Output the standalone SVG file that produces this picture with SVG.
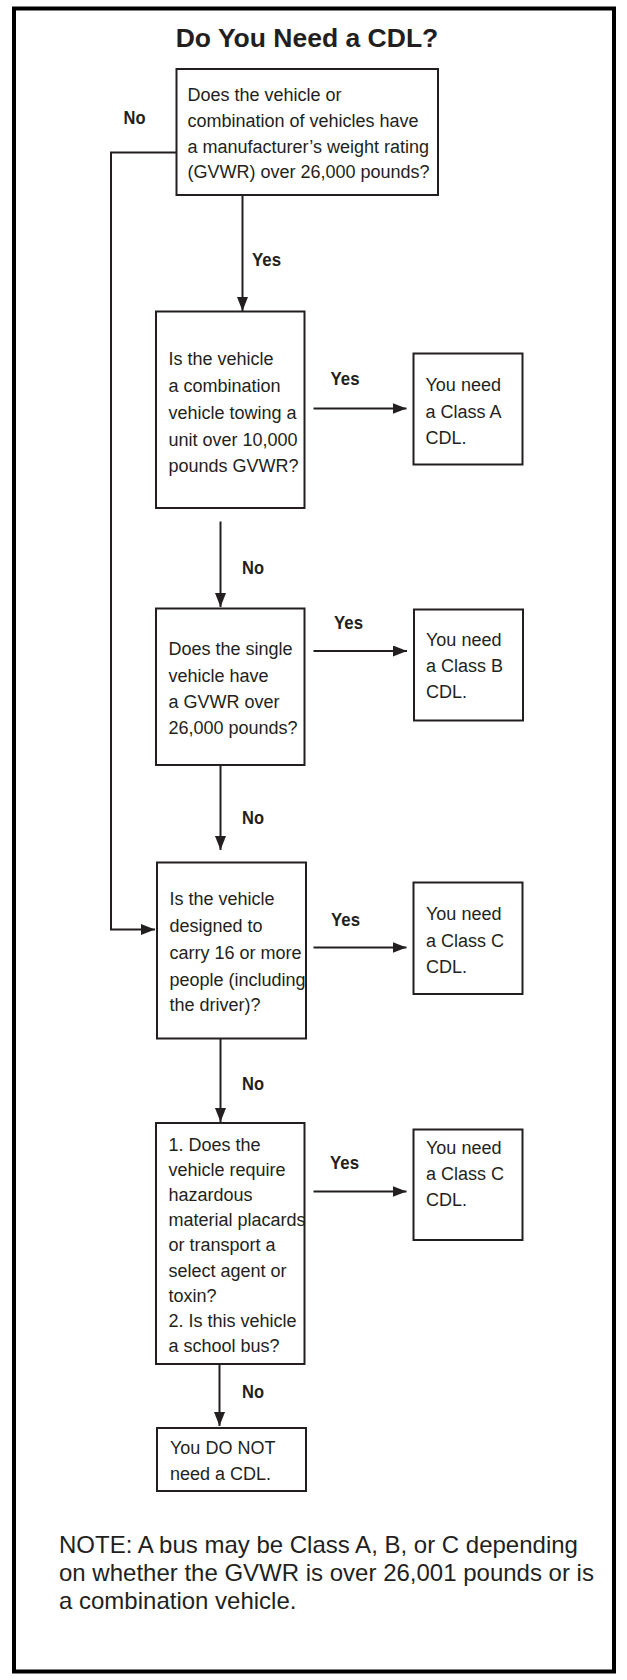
<svg xmlns="http://www.w3.org/2000/svg" width="627" height="1680" viewBox="0 0 627 1680">
<defs>
<style>
.frame{fill:none;stroke:#000;stroke-width:4}
.box{fill:#fff;stroke:#231f20;stroke-width:2}
.t{font-family:"Liberation Sans",Arial,sans-serif;font-size:18px;fill:#231f20}
.lbl{font-family:"Liberation Sans",Arial,sans-serif;font-size:18.5px;font-weight:bold;fill:#231f20}
.title{font-family:"Liberation Sans",Arial,sans-serif;font-size:26.5px;font-weight:bold;fill:#231f20}
.note{font-family:"Liberation Sans",Arial,sans-serif;font-size:24px;fill:#231f20}
.c{fill:none;stroke:#231f20;stroke-width:2}
</style>
<marker id="ah" markerUnits="userSpaceOnUse" markerWidth="14" markerHeight="11" refX="14" refY="5.5" orient="auto">
<path d="M0,0 L14,5.5 L0,11 z" fill="#231f20"/>
</marker>
</defs>
<rect x="0" y="0" width="627" height="1680" fill="#fff"/>
<rect class="frame" x="14" y="8.5" width="600" height="1663"/>
<text class="title" x="307" y="46.5" text-anchor="middle">Do You Need a CDL?</text>

<g id="connectors">
<path class="c" d="M176.5,152.5 H111 V929.5 H155" marker-end="url(#ah)"/>
<path class="c" d="M242.5,195 V311" marker-end="url(#ah)"/>
<path class="c" d="M220.5,521.5 V607" marker-end="url(#ah)"/>
<path class="c" d="M220.5,765 V850" marker-end="url(#ah)"/>
<path class="c" d="M220.5,1038.5 V1122" marker-end="url(#ah)"/>
<path class="c" d="M219.5,1365 V1426" marker-end="url(#ah)"/>
<path class="c" d="M313.5,408.5 H406.5" marker-end="url(#ah)"/>
<path class="c" d="M313.5,651 H407" marker-end="url(#ah)"/>
<path class="c" d="M313.5,947.5 H406.5" marker-end="url(#ah)"/>
<path class="c" d="M313.5,1191.5 H406.5" marker-end="url(#ah)"/>
<text class="lbl" x="123.5" y="123.5" textLength="22" lengthAdjust="spacingAndGlyphs">No</text>
<text class="lbl" x="252" y="265.5" textLength="29" lengthAdjust="spacingAndGlyphs">Yes</text>
<text class="lbl" x="330.5" y="385" textLength="29" lengthAdjust="spacingAndGlyphs">Yes</text>
<text class="lbl" x="242" y="574" textLength="22" lengthAdjust="spacingAndGlyphs">No</text>
<text class="lbl" x="334" y="628.5" textLength="29" lengthAdjust="spacingAndGlyphs">Yes</text>
<text class="lbl" x="242" y="823.5" textLength="22" lengthAdjust="spacingAndGlyphs">No</text>
<text class="lbl" x="331" y="926" textLength="29" lengthAdjust="spacingAndGlyphs">Yes</text>
<text class="lbl" x="242" y="1090" textLength="22" lengthAdjust="spacingAndGlyphs">No</text>
<text class="lbl" x="330" y="1168.5" textLength="29" lengthAdjust="spacingAndGlyphs">Yes</text>
<text class="lbl" x="242" y="1397.5" textLength="22" lengthAdjust="spacingAndGlyphs">No</text>
</g>

<g id="q1">
<rect class="box" x="176.5" y="69" width="261.5" height="126"/>
<text class="t" x="187.5" y="101">Does the vehicle or</text>
<text class="t" x="187.5" y="126.5">combination of vehicles have</text>
<text class="t" x="187.5" y="152.5">a manufacturer’s weight rating</text>
<text class="t" x="187.5" y="177.5">(GVWR) over 26,000 pounds?</text>
</g>

<g id="q2">
<rect class="box" x="156" y="311.5" width="148.5" height="196.5"/>
<text class="t" x="168.5" y="364.5">Is the vehicle</text>
<text class="t" x="168.5" y="391.5">a combination</text>
<text class="t" x="168.5" y="418.5">vehicle towing a</text>
<text class="t" x="168.5" y="445.5">unit over 10,000</text>
<text class="t" x="168.5" y="472">pounds GVWR?</text>
</g>

<g id="classA">
<rect class="box" x="413.5" y="353.5" width="109" height="111"/>
<text class="t" x="425.5" y="391">You need</text>
<text class="t" x="425.5" y="417.5">a Class A</text>
<text class="t" x="425.5" y="443.5">CDL.</text>
</g>

<g id="q3">
<rect class="box" x="156" y="608.5" width="148.5" height="156.5"/>
<text class="t" x="168.5" y="655">Does the single</text>
<text class="t" x="168.5" y="681.5">vehicle have</text>
<text class="t" x="168.5" y="707.5">a GVWR over</text>
<text class="t" x="168.5" y="734">26,000 pounds?</text>
</g>

<g id="classB">
<rect class="box" x="414" y="609.5" width="109" height="111"/>
<text class="t" x="426" y="646">You need</text>
<text class="t" x="426" y="671.5">a Class B</text>
<text class="t" x="426" y="698">CDL.</text>
</g>

<g id="q4">
<rect class="box" x="157" y="862.5" width="149" height="176"/>
<text class="t" x="169.5" y="905">Is the vehicle</text>
<text class="t" x="169.5" y="931.5">designed to</text>
<text class="t" x="169.5" y="958.5">carry 16 or more</text>
<text class="t" x="169.5" y="985.5">people (including</text>
<text class="t" x="169.5" y="1011">the driver)?</text>
</g>

<g id="classC1">
<rect class="box" x="413.5" y="882.5" width="109" height="111.5"/>
<text class="t" x="426" y="920">You need</text>
<text class="t" x="426" y="946.5">a Class C</text>
<text class="t" x="426" y="972.5">CDL.</text>
</g>

<g id="q5">
<rect class="box" x="156" y="1123" width="148.5" height="241"/>
<text class="t" x="168.5" y="1150.5">1. Does the</text>
<text class="t" x="168.5" y="1175.5">vehicle require</text>
<text class="t" x="168.5" y="1200.5">hazardous</text>
<text class="t" x="168.5" y="1226">material placards</text>
<text class="t" x="168.5" y="1251">or transport a</text>
<text class="t" x="168.5" y="1276.5">select agent or</text>
<text class="t" x="168.5" y="1301.5">toxin?</text>
<text class="t" x="168.5" y="1326.5">2. Is this vehicle</text>
<text class="t" x="168.5" y="1351.5">a school bus?</text>
</g>

<g id="classC2">
<rect class="box" x="413.5" y="1129.5" width="109" height="110.5"/>
<text class="t" x="426" y="1154">You need</text>
<text class="t" x="426" y="1180">a Class C</text>
<text class="t" x="426" y="1205.5">CDL.</text>
</g>

<g id="noCdl">
<rect class="box" x="157" y="1428" width="149" height="63"/>
<text class="t" x="170" y="1454">You DO NOT</text>
<text class="t" x="170" y="1480">need a CDL.</text>
</g>

<g id="note">
<text class="note" x="59" y="1553">NOTE: A bus may be Class A, B, or C depending</text>
<text class="note" x="59" y="1581">on whether the GVWR is over 26,001 pounds or is</text>
<text class="note" x="59" y="1609">a combination vehicle.</text>
</g>
</svg>
